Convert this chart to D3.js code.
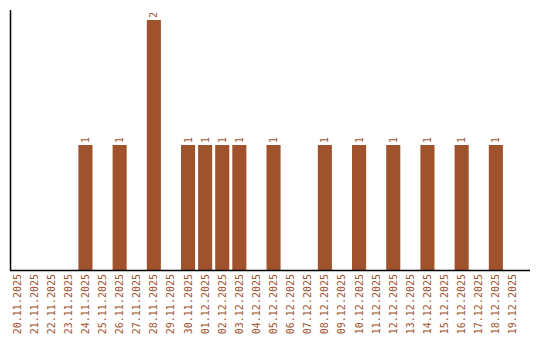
<!DOCTYPE html>
<html>
<head>
<meta charset="utf-8">
<script src="https://cdn.jsdelivr.net/npm/d3@7"></script>
<style>
  body { margin: 0; background: #fff; }
  svg text { font-family: "DejaVu Sans Mono", monospace; font-size: 10px; fill: #a0522d; }
</style>
</head>
<body>
<svg id="chart"></svg>
<script>
// dates shown on the x axis
const dates = [
  '20.11.2025', '21.11.2025', '22.11.2025', '23.11.2025', '24.11.2025',
  '25.11.2025', '26.11.2025', '27.11.2025', '28.11.2025', '29.11.2025',
  '30.11.2025', '01.12.2025', '02.12.2025', '03.12.2025', '04.12.2025',
  '05.12.2025', '06.12.2025', '07.12.2025', '08.12.2025', '09.12.2025',
  '10.12.2025', '11.12.2025', '12.12.2025', '13.12.2025', '14.12.2025',
  '15.12.2025', '16.12.2025', '17.12.2025', '18.12.2025', '19.12.2025'
];
// count per day
const counts = [
  0, 0, 0, 0, 1,
  0, 1, 0, 2, 0,
  1, 1, 1, 1, 0,
  1, 0, 0, 1, 0,
  1, 0, 1, 0, 1,
  0, 1, 0, 1, 0
];

const width = 540;
const height = 340;
const margin = { top: 10, right: 10, bottom: 70, left: 10 };
const barColor = '#a0522d';

const data = dates.map((d, i) => ({ date: d, value: counts[i] }));

const svg = d3.select('#chart')
  .attr('width', width)
  .attr('height', height);

// 30 bands of 17px starting at the y axis
const x = d3.scaleBand()
  .domain(dates)
  .range([margin.left, margin.left + dates.length * 17])
  .paddingInner(3 / 17)
  .paddingOuter(0)
  .align(0);

const y = d3.scaleLinear()
  .domain([0, d3.max(counts)])
  .range([height - margin.bottom, margin.top + 10]);

// bars
svg.selectAll('.bar')
  .data(data.filter(d => d.value > 0))
  .enter()
  .append('rect')
  .attr('class', 'bar')
  .attr('x', d => x(d.date))
  .attr('y', d => y(d.value))
  .attr('width', x.bandwidth())
  .attr('height', d => y(0) - y(d.value))
  .attr('fill', barColor);

// value labels, rotated above each bar
svg.selectAll('.value')
  .data(data.filter(d => d.value > 0))
  .enter()
  .append('text')
  .attr('class', 'value')
  .attr('transform', d => `translate(${x(d.date) + x.bandwidth() / 2 + 3.5},${y(d.value) - 2}) rotate(-90)`)
  .attr('text-anchor', 'start')
  .text(d => d.value);

// y axis line
svg.append('line')
  .attr('x1', margin.left + 0.5)
  .attr('x2', margin.left + 0.5)
  .attr('y1', margin.top)
  .attr('y2', y(0))
  .attr('stroke', '#000')
  .attr('stroke-width', 1.5);

// x axis line
svg.append('line')
  .attr('x1', margin.left)
  .attr('x2', width - margin.right)
  .attr('y1', y(0) + 0.5)
  .attr('y2', y(0) + 0.5)
  .attr('stroke', '#000')
  .attr('stroke-width', 1.5);

// date labels
svg.selectAll('.date')
  .data(dates)
  .enter()
  .append('text')
  .attr('class', 'date')
  .attr('transform', d => `translate(${x(d) + x.bandwidth() / 2 + 3.5},${y(0) + 4}) rotate(-90)`)
  .attr('text-anchor', 'end')
  .text(d => d);
</script>
</body>
</html>
